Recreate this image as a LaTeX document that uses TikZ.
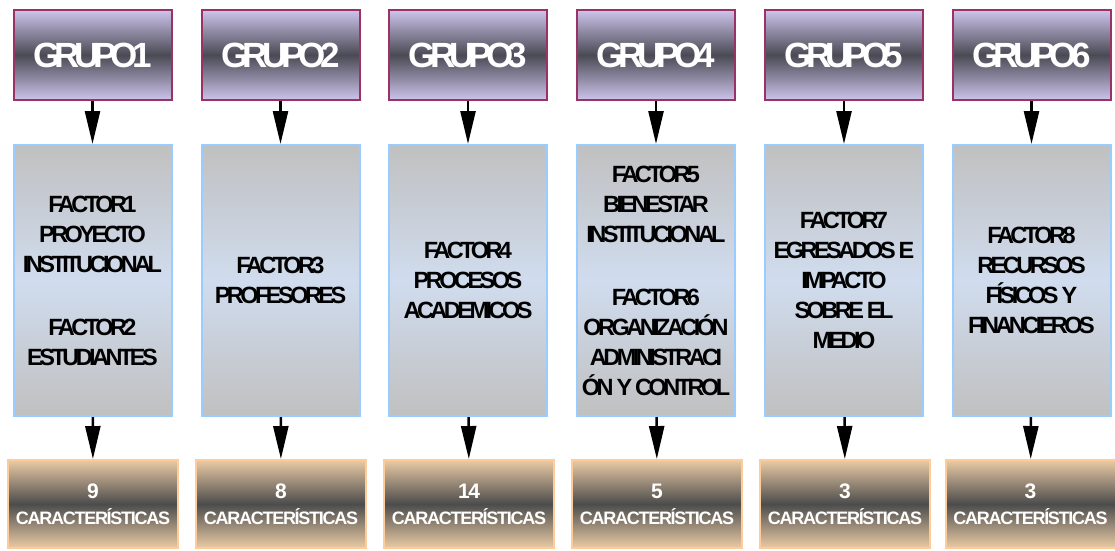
\documentclass[tikz,border=0pt]{standalone}
\usepackage{fontspec}
\setmainfont{Liberation Sans}
\usetikzlibrary{arrows.meta}
\definecolor{grpborde}{HTML}{993366}
\definecolor{grplila}{HTML}{CEC4EC}
\definecolor{grposc}{HTML}{4A4A54}
\definecolor{facborde}{HTML}{99CCFF}
\definecolor{facgris}{HTML}{C0C0C0}
\definecolor{facazul}{HTML}{D0DCEE}
\definecolor{carborde}{HTML}{FFCC99}
\definecolor{carcafe}{HTML}{EACBA5}
\definecolor{carosc}{HTML}{4C4C4C}
\begin{document}
\begin{tikzpicture}[x=1pt, y=-1pt, line width=2pt,
    grupo/.style={draw=grpborde, top color=grplila, bottom color=grplila, middle color=grposc,
        minimum width=158pt, minimum height=90pt, text=white,
        font=\bfseries\fontsize{35}{35}\selectfont\addfontfeature{LetterSpace=-17}},
    factor/.style={draw=facborde, top color=facgris, bottom color=facgris, middle color=facazul,
        minimum width=158pt, minimum height=271pt, align=center, inner sep=0pt,
        font=\bfseries\fontsize{23.5}{30}\selectfont\addfontfeature{LetterSpace=-15}},
    carac/.style={draw=carborde, top color=carcafe, bottom color=carcafe, middle color=carosc,
        minimum width=170pt, minimum height=88pt, align=center, text=white, inner sep=0pt,
        font=\bfseries\fontsize{18}{26}\selectfont\addfontfeature{LetterSpace=-7}},
    num/.style={font=\bfseries\fontsize{21}{26}\selectfont},
    flecha/.style={-{Triangle[width=15pt,length=33pt]}, line width=2.5pt}]
    \useasboundingbox (0,0) rectangle (1115,550);
    % grupos
    \node [grupo] (G1) at (92.5,55) {GRUPO1};
    \node [grupo] (G2) at (280.5,55) {GRUPO2};
    \node [grupo] (G3) at (468,55) {GRUPO3};
    \node [grupo] (G4) at (656,55) {GRUPO4};
    \node [grupo] (G5) at (844,55) {GRUPO5};
    \node [grupo] (G6) at (1031.5,55) {GRUPO6};
    % factores
    \node [factor] (F1) at (92.5,280.5) {FACTOR1\\PROYECTO\\INSTITUCIONAL\\[33pt]FACTOR2\\ESTUDIANTES};
    \node [factor] (F2) at (280.5,280.5) {FACTOR3\\PROFESORES};
    \node [factor] (F3) at (468,280.5) {FACTOR4\\PROCESOS\\ACADEMICOS};
    \node [factor] (F4) at (656,280.5) {FACTOR5\\BIENESTAR\\INSTITUCIONAL\\[33pt]FACTOR6\\ORGANIZACIÓN\\ADMINISTRACI\\ÓN Y CONTROL};
    \node [factor] (F5) at (844,280.5) {FACTOR7\\EGRESADOS E\\IMPACTO\\SOBRE EL\\MEDIO};
    \node [factor] (F6) at (1031.5,280.5) {FACTOR8\\RECURSOS\\FÍSICOS Y\\FINANCIEROS};
    % caracteristicas
    \node [carac] (C1) at (93,504) {{\fontsize{21}{26}\selectfont 9}\\CARACTERÍSTICAS};
    \node [carac] (C2) at (281,504) {{\fontsize{21}{26}\selectfont 8}\\CARACTERÍSTICAS};
    \node [carac] (C3) at (469,504) {{\fontsize{21}{26}\selectfont 14}\\CARACTERÍSTICAS};
    \node [carac] (C4) at (657,504) {{\fontsize{21}{26}\selectfont 5}\\CARACTERÍSTICAS};
    \node [carac] (C5) at (845,504) {{\fontsize{21}{26}\selectfont 3}\\CARACTERÍSTICAS};
    \node [carac] (C6) at (1030.5,504) {{\fontsize{21}{26}\selectfont 3}\\CARACTERÍSTICAS};
    \path [flecha] (G1) edge (F1) (F1) edge (C1);
    \path [flecha] (G2) edge (F2) (F2) edge (C2);
    \path [flecha] (G3) edge (F3) (F3) edge (C3);
    \path [flecha] (G4) edge (F4) (F4) edge (C4);
    \path [flecha] (G5) edge (F5) (F5) edge (C5);
    \path [flecha] (G6) edge (F6) (F6) edge (C6);
\end{tikzpicture}
\end{document}
